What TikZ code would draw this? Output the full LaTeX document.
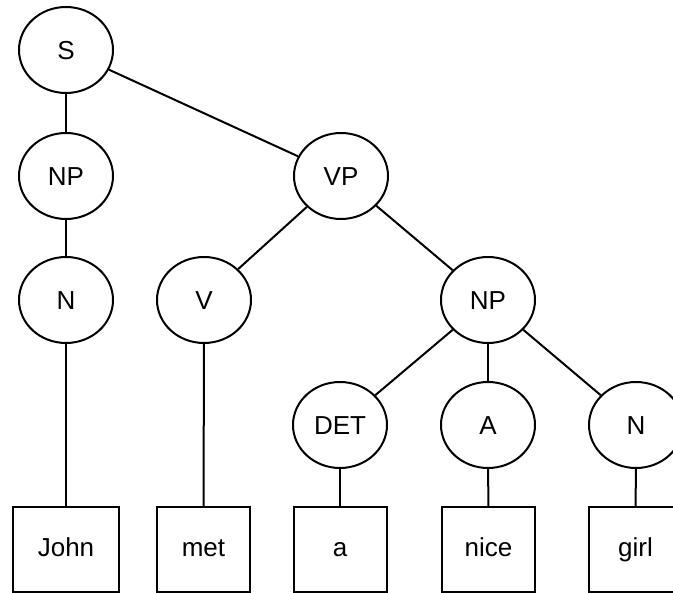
\documentclass[tikz,border=0pt]{standalone}
\usepackage{fontspec}
\setmainfont{Liberation Sans}
\usetikzlibrary{shapes.geometric, positioning}

\begin{document}
\begin{tikzpicture}[
    x=1pt, y=-1pt,
    cat/.style={ellipse, minimum width=94pt, minimum height=86pt, inner sep=0pt, draw=black, line width=2pt, text height=19pt, text depth=0pt, font=\fontsize{26}{30}\selectfont},
    word/.style={rectangle, minimum width=93pt, minimum height=85pt, inner sep=0pt, draw=black, line width=2pt, text height=19pt, text depth=5pt, font=\fontsize{26}{30}\selectfont},
    edge/.style={line width=2pt}
]
    \useasboundingbox (0, 0) rectangle (673, 593);

    % Categories
    \node (s) [cat] at (66, 50) {S};
    \node (np1) [cat] at (66, 176) {NP};
    \node (vp) [cat] at (341, 176) {VP};
    \node (n1) [cat] at (66, 300) {N};
    \node (v) [cat] at (204, 300) {V};
    \node (np2) [cat] at (488, 300) {NP};
    \node (det) [cat] at (340, 425) {DET};
    \node (adj) [cat] at (488, 425) {A};
    \node (n2) [cat] at (636, 425) {N};

    % Words
    \node (john) [word, minimum width=106pt] at (66, 549.5) {John};
    \node (met) [word] at (203.5, 549.5) {met};
    \node (a) [word] at (340, 549.5) {a};
    \node (nice) [word] at (488.5, 549.5) {nice};
    \node (girl) [word] at (635.5, 549.5) {girl};

    % Edges
    \draw [edge] (s) -- (np1);
    \draw [edge] (s) -- (vp);
    \draw [edge] (np1) -- (n1);
    \draw [edge] (n1) -- (john);
    \draw [edge] (vp) -- (v);
    \draw [edge] (vp) -- (np2);
    \draw [edge] (v) -- (met);
    \draw [edge] (np2) -- (det);
    \draw [edge] (np2) -- (adj);
    \draw [edge] (np2) -- (n2);
    \draw [edge] (det) -- (a);
    \draw [edge] (adj) -- (nice);
    \draw [edge] (n2) -- (girl);
\end{tikzpicture}
\end{document}
